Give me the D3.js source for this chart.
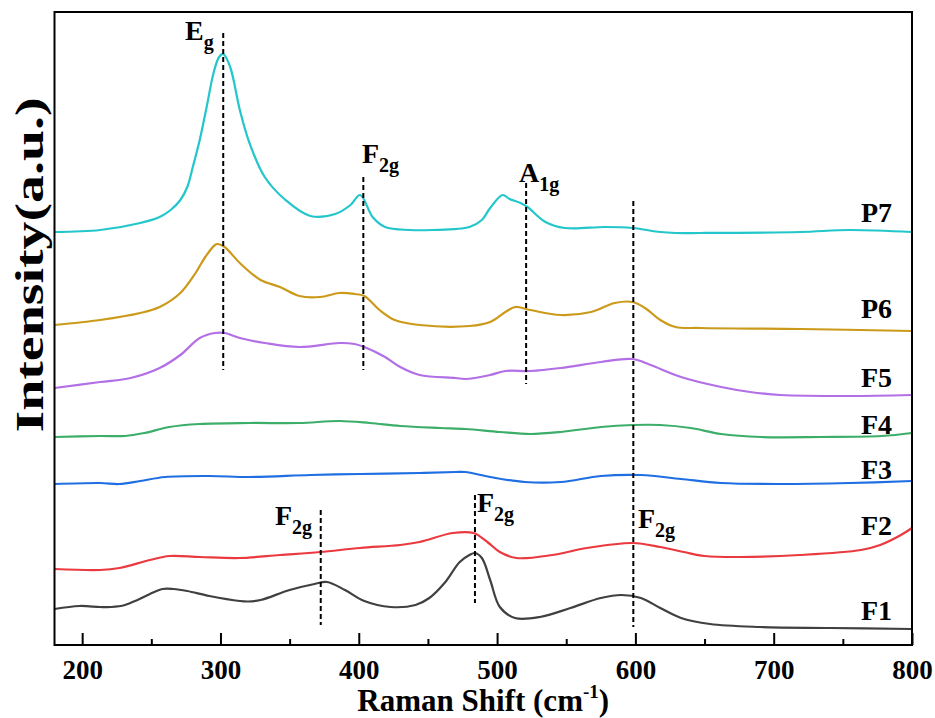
<!DOCTYPE html>
<html>
<head>
<meta charset="utf-8">
<script src="https://cdn.jsdelivr.net/npm/d3@7"></script>
<style>
  body { margin: 0; background: #fff; }
  text { font-family: "Times New Roman", "Liberation Serif", serif; font-weight: bold; fill: #000; }
</style>
</head>
<body>
<script>
// Raman spectra, each series is [shift (cm-1), intensity (a.u., stacked offset)]
var seriesNames = ["P7", "P6", "F5", "F4", "F3", "F2", "F1"];
var seriesColors = ["#22c6cb", "#cc9a1a", "#b26fe6", "#3cae69", "#1f6fe2", "#ea3a3f", "#404040"];

var P7 = [[180,413],[213,415],[242,422],[256,428],[264,435],[271,445],[276,458],[280,478],[285,505],[290,538],[295,572],[299,588],[302,591],[307,578],[314,535],[321,502],[332,468],[347,445],[365,429],[383,431],[394,440],[401,450],[410,428],[419,418],[437,415],[453,415],[480,418],[489,425],[495,437],[504,450],[509,446],[517,442],[522,438],[535,423],[549,417],[578,418],[598,417],[618,413],[629,412],[647,412],[719,413],[755,415],[800,413]];
var P6 = [[180,320],[213,325],[242,332],[256,338],[271,352],[282,372],[289,388],[296,400],[298,401],[303,398],[314,382],[329,365],[343,358],[357,349],[372,348],[386,352],[397,351],[404,349],[415,335],[426,325],[444,320],[480,319],[495,323],[506,333],[513,338],[524,335],[546,330],[568,333],[585,342],[598,343],[607,337],[618,325],[629,318],[647,317],[719,316],[800,314]];
var F5 = [[180,257],[213,263],[235,267],[256,277],[271,290],[285,307],[296,312],[303,312],[314,307],[332,302],[357,298],[386,302],[397,301],[404,298],[419,288],[430,278],[444,270],[470,267],[477,266],[495,270],[506,274],[524,274],[546,277],[575,283],[598,286],[611,280],[633,268],[662,258],[683,253],[705,250],[755,249],[800,250]];
var F4 = [[180,208],[213,209],[231,209],[245,212],[263,218],[285,221],[321,222],[357,222],[386,224],[408,222],[430,219],[459,217],[477,216],[502,213],[524,211],[546,213],[575,218],[598,220],[618,220],[640,217],[662,211],[691,208],[734,208],[778,209],[800,212]];
var F3 = [[180,161],[213,162],[227,161],[242,164],[260,168],[292,169],[321,168],[365,170],[401,171],[444,172],[470,173],[477,173],[495,168],[520,163],[546,163],[575,169],[604,170],[633,166],[662,162],[705,161],[755,162],[800,164]];
var F2 = [[180,76],[213,75],[227,77],[249,85],[263,89],[285,88],[314,87],[343,90],[372,93],[401,97],[430,100],[444,103],[468,112],[483,112],[493,103],[502,93],[514,87],[540,90],[565,97],[598,102],[618,98],[635,93],[650,89],[676,88],[719,90],[763,95],[777,100],[792,110],[800,117]];
var F1 = [[180,36],[198,39],[213,38],[221,38],[231,40],[240,45],[249,51],[258,56],[266,56],[276,54],[292,49],[314,44],[320,43.5],[329,45],[350,55],[368,61],[377,63],[390,55],[404,44],[423,38],[441,40],[451,47],[462,62],[473,83],[480,90],[484,92],[489,87],[495,65],[502,38],[513,27],[531,28],[553,37],[575,47],[590,50],[604,47],[618,37],[633,27],[654,21],[690,18],[741,17],[800,16]];
var seriesData = [P7, P6, F5, F4, F3, F2, F1];

// vibrational modes: dashed marker lines
var modeShift = [302, 403.3, 521, 598.5, 372.5, 484];
var modeTop = [612, 468, 462, 444, 135, 150];
var modeBottom = [275, 275, 261, 18, 20, 42];

var xTicks = [200, 300, 400, 500, 600, 700, 800];
var xMinor = [250, 350, 450, 550, 650, 750];

// layout
var W = 935, H = 718;
var m = {left: 54.5, right: 912, top: 12, bottom: 645};
var labelBase = [222, 318, 387, 434, 479, 535, 620];
var modeLabels = [
  {main: "E", sub: "g", x: 185, y: 40},
  {main: "F", sub: "2g", x: 362, y: 163},
  {main: "A", sub: "1g", x: 519, y: 182},
  {main: "F", sub: "2g", x: 275, y: 525},
  {main: "F", sub: "2g", x: 477, y: 512},
  {main: "F", sub: "2g", x: 638, y: 528}
];

var svg = d3.select("body").append("svg")
    .attr("width", W)
    .attr("height", H);

var x = d3.scaleLinear().domain([180, 800]).range([m.left, m.right]);
var y = d3.scaleLinear().domain([0, 633]).range([m.bottom, m.top]);

var line = d3.line()
    .x(function(d){ return x(d[0]); })
    .y(function(d){ return y(d[1]); })
    .curve(d3.curveCatmullRom.alpha(0.5));

seriesData.forEach(function(s, i){
    svg.append("path")
        .attr("d", line(s))
        .attr("fill", "none")
        .attr("stroke", seriesColors[i])
        .attr("stroke-width", 2.2)
        .attr("stroke-linejoin", "round");
});

// dashed mode lines
modeShift.forEach(function(w, i){
    svg.append("line")
        .attr("x1", x(w)).attr("x2", x(w))
        .attr("y1", y(modeTop[i])).attr("y2", y(modeBottom[i]))
        .attr("stroke", "#000")
        .attr("stroke-width", 2)
        .attr("stroke-dasharray", "5,3");
});

// frame
svg.append("rect")
    .attr("x", m.left).attr("y", m.top)
    .attr("width", m.right - m.left).attr("height", m.bottom - m.top)
    .attr("fill", "none")
    .attr("stroke", "#000")
    .attr("stroke-width", 2);

// bottom axis, ticks inward
var axisG = svg.append("g")
    .attr("transform", "translate(0," + m.bottom + ")")
    .call(d3.axisBottom(x).tickValues(xTicks).tickSize(-12).tickPadding(15));
axisG.select(".domain").remove();
axisG.selectAll("line").attr("stroke-width", 2);
axisG.selectAll("text")
    .attr("font-size", 27)
    .attr("fill", "#000");

var minorG = svg.append("g")
    .attr("transform", "translate(0," + m.bottom + ")")
    .call(d3.axisBottom(x).tickValues(xMinor).tickSize(-6).tickFormat(""));
minorG.select(".domain").remove();
minorG.selectAll("line").attr("stroke-width", 2);

// series labels
seriesNames.forEach(function(n, i){
    svg.append("text")
        .attr("x", 892)
        .attr("y", labelBase[i])
        .attr("text-anchor", "end")
        .attr("font-size", 28)
        .text(n);
});

// mode labels
modeLabels.forEach(function(l){
    var t = svg.append("text")
        .attr("x", l.x)
        .attr("y", l.y)
        .attr("font-size", 28);
    t.append("tspan").text(l.main);
    t.append("tspan").attr("font-size", 20).attr("dy", 9).text(l.sub);
});

// axis titles
var xt = svg.append("text")
    .attr("x", (m.left + m.right) / 2)
    .attr("y", 711)
    .attr("text-anchor", "middle")
    .attr("font-size", 31);
xt.append("tspan").text("Raman Shift (cm");
xt.append("tspan").attr("font-size", 19).attr("dy", -13).text("-1");
xt.append("tspan").attr("dy", 13).text(")");

svg.append("text")
    .attr("transform", "translate(43,265) rotate(-90)")
    .attr("text-anchor", "middle")
    .attr("font-size", 40)
    .attr("textLength", 335)
    .attr("lengthAdjust", "spacingAndGlyphs")
    .text("Intensity(a.u.)");
</script>
</body>
</html>
